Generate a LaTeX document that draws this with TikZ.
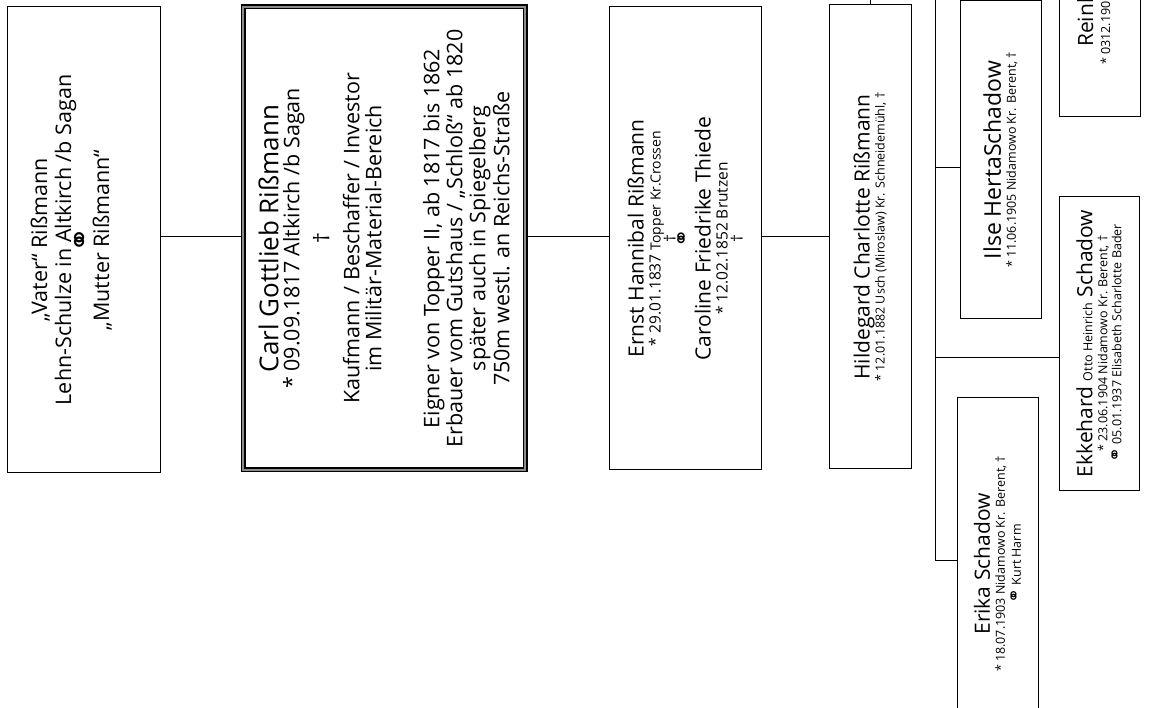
\documentclass[tikz,border=0pt]{standalone}
\usepackage{fontspec}
\setmainfont{Open Sans}
\newfontfamily\symfont{DejaVu Sans}
\usetikzlibrary{positioning,calc}

% Schriftgroessen
\newcommand\fsCarl{\fontsize{26}{28}\selectfont}
\newcommand\fsName{\fontsize{21}{24}\selectfont}
\newcommand\fsText{\fontsize{21.5}{24}\selectfont}
\newcommand\fsKlein{\fontsize{12.5}{14}\selectfont}
\newcommand\fsMittel{\fontsize{15.5}{17}\selectfont}
\newcommand\ehesym[1]{{\symfont\fontsize{#1}{#1}\selectfont ⚭}}

\begin{document}
\begin{tikzpicture}[x=1pt, y=-1pt]
% STYLES
\tikzset{
    kasten/.style={rectangle, draw, line width=1pt, rotate=90, align=center,
    inner sep=0pt, font=\fsText},
    hauptkasten/.style={kasten, line width=1.3pt, double=black!45, double distance=2.4pt},
    zeile/.style={rotate=90, anchor=base west, inner sep=0pt},
    linie/.style={draw, line width=1pt}
}
\useasboundingbox (0,0) rectangle (1149,708);
\fill[white] (0,0) rectangle (1149,708);
\clip (0,0) rectangle (1149,708);

% Vorfahren
\node [kasten, minimum width=466pt, minimum height=153pt] (Vater) at (83.5,240)
  {„Vater“ Rißmann\\ Lehn-Schulze in Altkirch /b Sagan\\[-5pt] \ehesym{30}\\[-5pt] „Mutter Rißmann“\\[-4pt] \strut};
\node [hauptkasten, minimum width=463pt, minimum height=282pt] (Carl) at (384,238.5)
  {\fsCarl Carl Gottlieb Rißmann\\[-3pt] * 09.09.1817 Altkirch /b Sagan\\[6pt] †\\[6pt]
   Kaufmann / Beschaffer / Investor\\[-2pt] im Militär-Material-Bereich\\[34pt]
   Eigner von Topper II, ab 1817 bis 1862\\[-1pt] Erbauer vom Gutshaus / „Schloß“ ab 1820\\[-1pt]
   später auch in Spiegelberg\\ 750m westl. an Reichs-Straße};
\node [kasten, minimum width=463pt, minimum height=152pt] (Ernst) at (685,238.5)
  {\fsName Ernst Hannibal Rißmann\\[-7pt] \fsMittel * 29.01.1837 {\fontsize{14}{15}\selectfont Topper Kr.Crossen}\\[-9pt]
   \fsMittel †\\[-10pt] \ehesym{22}\\[-3pt] \fsName Caroline Friedrike Thiede\\[-7pt]
   \fsMittel * 12.02.1852 Brutzen\\[-9pt] \fsMittel †};
\node [kasten, minimum width=464pt, minimum height=82pt] (Hilde) at (870,237)
  {\fsName Hildegard Charlotte Rißmann\\[-9pt] \fsKlein * 12.01.1882 Usch (Miroslaw) Kr. Schneidemühl, †};

% Kinder
\node [kasten, minimum width=318pt, minimum height=81pt] (Ilse) at (1000.5,160)
  {\fontsize{23}{25}\selectfont Ilse HertaSchadow\\[-9pt] \fsKlein * 11.06.1905 Nidamowo Kr. Berent, †};
\node [kasten, minimum width=293pt, minimum height=80pt] (Ekke) at (1099,343.5)
  {\fsName Ekkehard {\fsKlein Otto Heinrich} Schadow\\[-9pt]
   \fsKlein * 23.06.1904 Nidamowo Kr. Berent, †\\[-10pt]
   \fsKlein \ehesym{18} 05.01.1937 Elisabeth Scharlotte Bader};
\node [kasten, minimum width=332pt, minimum height=81pt] (Erika) at (997.5,564)
  {\fsName Erika Schadow\\[-9pt] \fsKlein * 18.07.1903 Nidamowo Kr. Berent, †\\[-8pt]
   \fsKlein \ehesym{18} Kurt Harm};
\node [kasten, minimum width=367pt, minimum height=81pt] (Reinh) at (1099.5,-66.5) {};
\node [zeile, font=\fsName] (ReinhName) at (1093,47) {Reinh};
\node [zeile, font=\fsKlein] (ReinhDatum) at (1110,65) {* 0312.190};

% Verbindungen
\coordinate (mitte) at (0,237);
\path[linie] (Vater.south |- mitte) -- (Carl.north |- mitte);
\path[linie] (Carl.south |- mitte) -- (Ernst.north |- mitte);
\path[linie] (Ernst.south |- mitte) -- (Hilde.north |- mitte);
\coordinate (HildeOben) at (870,-5);
\path[linie] (Hilde.east) -- (HildeOben);
\coordinate (bus) at (935,-5);
\coordinate (abzwIlse) at (935,168);
\coordinate (abzwEkke) at (935,358);
\coordinate (abzwErika) at (935,560);
\path[linie] (bus) -- (abzwErika) -- (abzwErika -| Erika.north);
\path[linie] (abzwIlse) -- (abzwIlse -| Ilse.north);
\path[linie] (abzwEkke) -- (abzwEkke -| Ekke.north);
\end{tikzpicture}
\end{document}
